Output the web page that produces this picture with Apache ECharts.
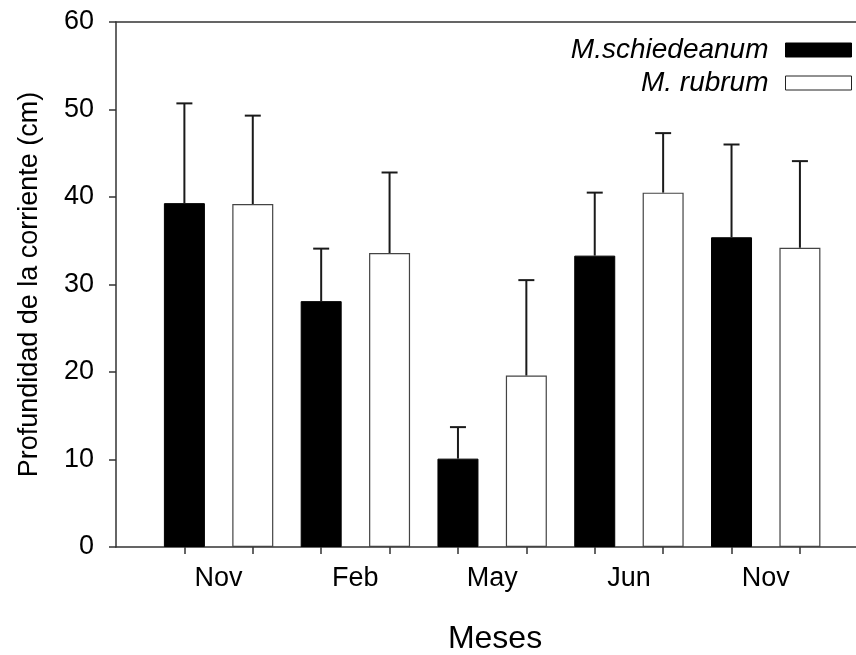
<!DOCTYPE html>
<html>
<head>
<meta charset="utf-8">
<script src="https://cdn.jsdelivr.net/npm/echarts@6/dist/echarts.min.js"></script>
<style>
  html, body { margin: 0; padding: 0; background: #fff; }
  #chart { width: 856px; height: 655px; }
</style>
</head>
<body>
<div id="chart"></div>
<script>
// Stream depth per sampling month (mean and standard deviation, cm)
const months = ['Nov', 'Feb', 'May', 'Jun', 'Nov'];
const seriesNames = ['M.schiedeanum', 'M. rubrum'];
const schiedeanumMean = [39.3, 28.1, 10.1, 33.3, 35.4];
const schiedeanumSD   = [11.4, 6.0, 3.6, 7.2, 10.6];
const rubrumMean      = [39.2, 33.6, 19.6, 40.5, 34.2];
const rubrumSD        = [10.1, 9.2, 10.9, 6.8, 9.9];
const yTicks = [0, 10, 20, 30, 40, 50, 60];

// Each month holds two bar slots on the x scale: 2i+1 and 2i+2
const posA = months.map((m, i) => 2 * i + 1);
const posB = months.map((m, i) => 2 * i + 2);
const labelPos = months.map((m, i) => 2 * i + 1.5);
const tickPos = posA.concat(posB).sort((a, b) => a - b);

const FONT = "'Liberation Sans', Arial, sans-serif";
const AXIS_COLOR = '#333333';

function errData(pos, mean, sd) {
  return pos.map((p, i) => [p, mean[i], mean[i] + sd[i]]);
}

function renderErr(params, api) {
  const x = api.value(0);
  const base = api.coord([x, api.value(1)]);
  const top = api.coord([x, api.value(2)]);
  const half = 8;
  const style = { stroke: '#1a1a1a', lineWidth: 2, fill: null };
  return {
    type: 'group',
    children: [
      { type: 'line', shape: { x1: base[0], y1: base[1], x2: top[0], y2: top[1] }, style },
      { type: 'line', shape: { x1: top[0] - half, y1: top[1], x2: top[0] + half, y2: top[1] }, style }
    ]
  };
}

const chart = echarts.init(document.getElementById('chart'), null, { renderer: 'canvas' });

chart.setOption({
  animation: false,
  backgroundColor: '#ffffff',
  grid: { left: 116, right: 0, top: 22, bottom: 108, containLabel: false, outerBoundsMode: 'none' },
  legend: {
    orient: 'vertical',
    right: 4,
    top: 35,
    padding: 0,
    align: 'right',
    itemWidth: 66,
    itemHeight: 14,
    itemGap: 3,
    selectedMode: false,
    textStyle: {
      fontFamily: FONT,
      fontSize: 28,
      fontStyle: 'italic',
      color: '#000',
      lineHeight: 30,
      padding: [0, 12, 0, 0]
    },
    data: [
      { name: seriesNames[0], icon: 'rect', itemStyle: { color: '#000', borderColor: '#000', borderWidth: 1 } },
      { name: seriesNames[1], icon: 'rect', itemStyle: { color: '#fff', borderColor: '#222', borderWidth: 1 } }
    ]
  },
  xAxis: [
    {
      type: 'value',
      min: 0,
      max: 10.82,
      interval: 1,
      name: 'Meses',
      nameLocation: 'middle',
      nameGap: 76,
      nameTextStyle: { fontFamily: FONT, fontSize: 32, color: '#000', padding: [0, 0, 0, 18] },
      splitLine: { show: false },
      axisLine: { show: true, onZero: false, lineStyle: { color: AXIS_COLOR, width: 1.5 } },
      axisTick: {
        show: true,
        inside: false,
        length: 7,
        customValues: tickPos,
        lineStyle: { color: AXIS_COLOR, width: 1.5 }
      },
      axisLabel: {
        show: true,
        margin: 18,
        customValues: labelPos,
        fontFamily: FONT,
        fontSize: 27,
        color: '#000',
        formatter: function (v) {
          const idx = Math.round((v - 1.5) / 2);
          return months[idx] !== undefined ? months[idx] : '';
        }
      }
    },
    {
      type: 'value',
      position: 'top',
      min: 0,
      max: 10.82,
      splitLine: { show: false },
      axisLine: { show: true, onZero: false, lineStyle: { color: AXIS_COLOR, width: 1.5 } },
      axisTick: { show: false },
      axisLabel: { show: false }
    }
  ],
  yAxis: {
    type: 'value',
    min: 0,
    max: 60,
    interval: 10,
    name: 'Profundidad de la corriente (cm)',
    nameLocation: 'middle',
    nameGap: 73,
    nameTextStyle: { fontFamily: FONT, fontSize: 27, color: '#000' },
    splitLine: { show: false },
    axisLine: { show: true, lineStyle: { color: AXIS_COLOR, width: 1.5 } },
    axisTick: { show: true, inside: false, length: 7, lineStyle: { color: AXIS_COLOR, width: 1.5 } },
    axisLabel: {
      margin: 22,
      fontFamily: FONT,
      fontSize: 27,
      color: '#000',
      customValues: yTicks
    }
  },
  series: [
    {
      name: seriesNames[0],
      type: 'bar',
      barWidth: 41,
      barGap: '-100%',
      itemStyle: { color: '#000', borderColor: '#000', borderWidth: 1 },
      data: posA.map((p, i) => [p, schiedeanumMean[i]]),
      z: 2
    },
    {
      name: seriesNames[1],
      type: 'bar',
      barWidth: 41,
      barGap: '-100%',
      itemStyle: { color: '#fff', borderColor: '#444', borderWidth: 1.2 },
      data: posB.map((p, i) => [p, rubrumMean[i]]),
      z: 2
    },
    {
      name: 'errA',
      type: 'custom',
      renderItem: renderErr,
      data: errData(posA, schiedeanumMean, schiedeanumSD),
      encode: { x: 0, y: [1, 2] },
      z: 3,
      silent: true
    },
    {
      name: 'errB',
      type: 'custom',
      renderItem: renderErr,
      data: errData(posB, rubrumMean, rubrumSD),
      encode: { x: 0, y: [1, 2] },
      z: 3,
      silent: true
    }
  ]
});
</script>
</body>
</html>
